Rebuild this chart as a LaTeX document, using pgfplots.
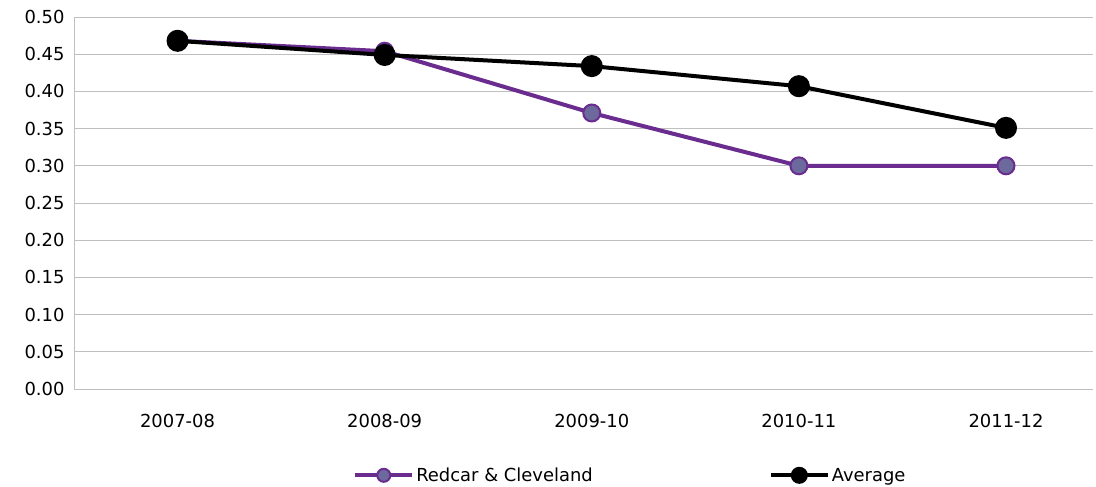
\documentclass[border=0pt]{standalone}
\usepackage{pgfplots}
\pgfplotsset{compat=1.18}
\usepackage{fontspec}
\setmainfont{DejaVu Sans}
\definecolor{rcline}{HTML}{6A2C8E}
\definecolor{rcfill}{HTML}{6C6A9C}
\definecolor{gridc}{HTML}{BFBFBF}
\begin{document}
\begin{tikzpicture}[x=1bp,y=1bp]
\path (0,0) rectangle (1096bp,486bp);
\begin{axis}[
  at={(74bp,97bp)}, anchor=south west,
  scale only axis,
  width=1019bp, height=372bp,
  xmin=-0.5, xmax=4.42,
  ymin=0, ymax=0.5,
  xtick={0,1,2,3,4},
  xticklabels={2007-08,2008-09,2009-10,2010-11,2011-12},
  ytick={0,0.05,...,0.5},
  yticklabel style={/pgf/number format/fixed,/pgf/number format/fixed zerofill,/pgf/number format/precision=2, xshift=-6bp},
  /pgf/number format/assume math mode=true,
  font=\fontsize{18}{20}\selectfont,
  ymajorgrids, grid style={gridc, line width=0.8bp},
  axis x line*=bottom, axis y line*=left,
  axis line style={gridc, line width=0.8bp},
  x axis line style={-}, y axis line style={-},
  major tick length=0pt,
  xticklabel style={yshift=-22bp},
  clip=false,
  legend columns=2,
  legend style={draw=none, at={(0.546,-0.232)}, anchor=center,
    font=\fontsize{18}{20}\selectfont,
    /tikz/every even column/.append style={column sep=174bp}},
  legend image code/.code={
    \draw[#1, mark=none] (0bp,0bp) -- (57bp,0bp);
    \path[#1, mark size=6.5bp] plot coordinates {(28.5bp,0bp)};
  },
]
\addplot[rcline, line width=4bp, mark=*, mark size=8.5bp,
  mark options={fill=rcfill, draw=rcline, line width=2bp}]
  coordinates {(0,0.468) (1,0.454) (2,0.371) (3,0.300) (4,0.300)};
\addlegendentry{Redcar \& Cleveland}
\addplot[black, line width=4bp, mark=*, mark size=9bp,
  mark options={fill=black, draw=black}]
  coordinates {(0,0.468) (1,0.449) (2,0.434) (3,0.407) (4,0.351)};
\addlegendentry{Average}
\end{axis}
\end{tikzpicture}
\end{document}
